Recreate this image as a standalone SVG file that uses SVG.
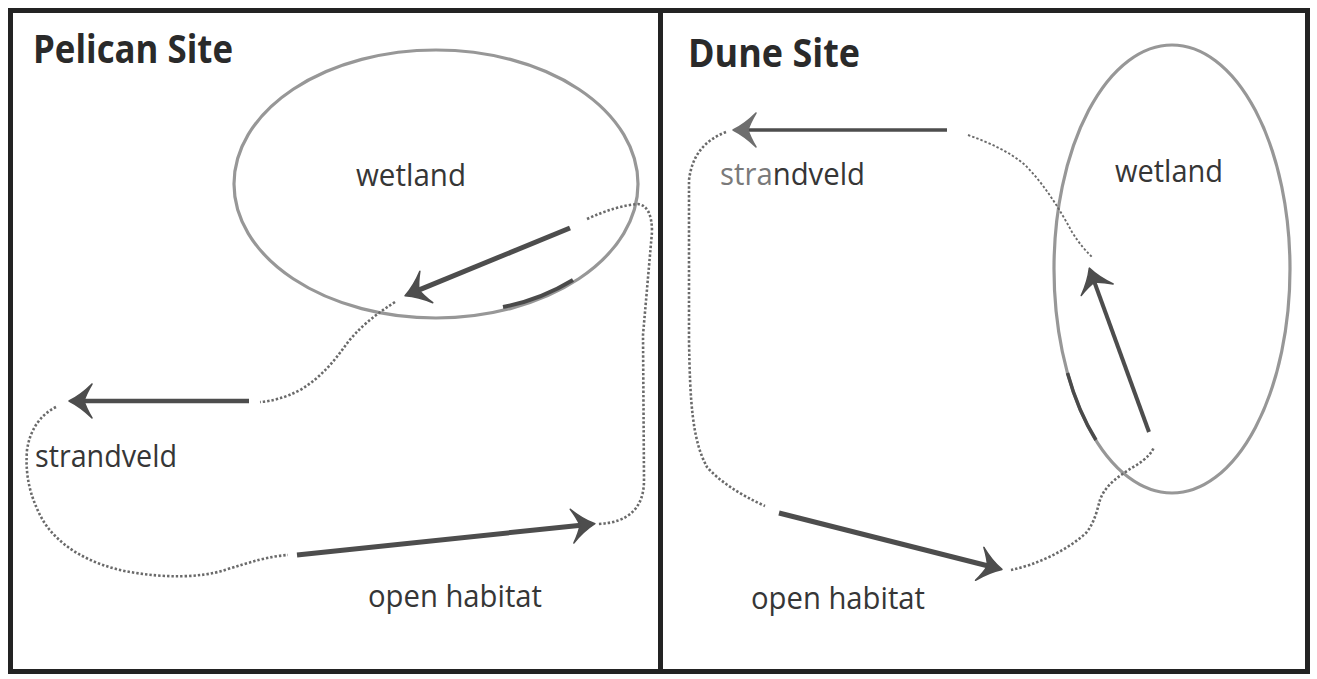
<svg xmlns="http://www.w3.org/2000/svg" width="1317" height="679" viewBox="0 0 1317 679">
<style>
.frame{fill:none;stroke:#232323;stroke-width:5}
.zone{fill:none;stroke:#979797;stroke-width:3.2}
.title{font-family:"Open Sans","Noto Sans",sans-serif;font-weight:700;font-size:35px;fill:#2a2a2a}
.lbl{font-family:"Open Sans","Noto Sans",sans-serif;font-weight:500;font-size:29px;fill:#363636}
.arrow{fill:none;stroke:#4d4d4d;stroke-width:5;marker-end:url(#ah)}
.dot{fill:none;stroke:#6a6a6a;stroke-width:2.6;stroke-dasharray:2.4 2}
.dark{fill:none;stroke:#4a4a4a;stroke-width:4}
</style>
<defs>
<marker id="ah" markerUnits="userSpaceOnUse" viewBox="-24 -20 40 40" refX="-12" refY="0" markerWidth="40" markerHeight="40" orient="auto">
<path d="M2,0 Q-10,-6 -21,-17 Q-15,-7 -13,0 Q-15,7 -21,17 Q-10,6 2,0 Z" fill="#4d4d4d" stroke="#4d4d4d" stroke-width="1.5" stroke-linejoin="round"/>
</marker>
<marker id="ahl" markerUnits="userSpaceOnUse" viewBox="-24 -20 40 40" refX="-12" refY="0" markerWidth="40" markerHeight="40" orient="auto">
<path d="M2,0 Q-10,-6 -21,-17 Q-15,-7 -13,0 Q-15,7 -21,17 Q-10,6 2,0 Z" fill="#6e6e6e" stroke="#6e6e6e" stroke-width="1.5" stroke-linejoin="round"/>
</marker>
</defs>
<rect x="0" y="0" width="1317" height="679" fill="#ffffff"/>
<g id="frame">
<rect class="frame" x="10.5" y="10.5" width="1297" height="661"/>
<line class="frame" x1="660.5" y1="10" x2="660.5" y2="672"/>
</g>
<g id="pelican-title"><text class="title" transform="translate(33,63) scale(1,1.1)" x="0" y="0" textLength="200" lengthAdjust="spacingAndGlyphs">Pelican Site</text></g>
<g id="dune-title"><text class="title" transform="translate(688,67) scale(1,1.1)" x="0" y="0" textLength="172" lengthAdjust="spacingAndGlyphs">Dune Site</text></g>
<g id="pelican-wetland">
<ellipse class="zone" cx="436" cy="184" rx="202" ry="134"/>
<path class="dark" d="M503,307 Q540,300 573,280"/>
<text class="lbl" transform="translate(356,186) scale(1,1.08)" x="0" y="0" textLength="110" lengthAdjust="spacingAndGlyphs">wetland</text>
</g>
<g id="pelican-strandveld"><text class="lbl" transform="translate(35,467) scale(1,1.08)" x="0" y="0" textLength="142" lengthAdjust="spacingAndGlyphs">strandveld</text></g>
<g id="pelican-open"><text class="lbl" transform="translate(368,607) scale(1,1.08)" x="0" y="0" textLength="174" lengthAdjust="spacingAndGlyphs">open habitat</text></g>
<g id="dune-wetland">
<ellipse class="zone" cx="1172" cy="269" rx="118" ry="224"/>
<path class="dark" style="stroke-width:3.5" d="M1067.5,373 A118,224 0 0 0 1096,440"/>
<text class="lbl" transform="translate(1115,182) scale(1,1.08)" x="0" y="0" textLength="108" lengthAdjust="spacingAndGlyphs">wetland</text>
</g>
<g id="dune-strandveld"><text class="lbl" transform="translate(720,185) scale(1,1.08)" x="0" y="0" textLength="145" lengthAdjust="spacingAndGlyphs"><tspan fill="#7a7a7a">stra</tspan>ndveld</text></g>
<g id="dune-open"><text class="lbl" transform="translate(751,609) scale(1,1.08)" x="0" y="0" textLength="174" lengthAdjust="spacingAndGlyphs">open habitat</text></g>
<g id="connectors">
<path class="dot" d="M587,219 Q615,206 638,204 Q652,206 652,232 L643,335 L644,480 Q644,522 598,524"/>
<path class="dot" d="M395,302 C370,318 358,330 348,342 C335,360 322,377 300,390 C285,398 272,401 260,402"/>
<path class="dot" d="M56,407 C40,415 30,430 27,450 C25,475 30,495 40,515 C55,545 90,565 130,572 C165,578 200,578 225,570 C250,562 270,556 288,555"/>
<path class="dot" d="M726,132 C705,140 692,155 689,180 L689,340 C690,400 692,440 707,467 C718,480 740,495 765,506"/>
<path class="dot" d="M1011,570 C1035,565 1065,552 1086,533 C1095,522 1097,510 1100,500 C1105,485 1120,475 1135,466 C1148,458 1152,452 1154,447"/>
<path class="dot" style="stroke-width:1.9" d="M968,135 C990,143 1010,152 1025,165 C1045,185 1060,210 1072,232 C1080,245 1087,252 1093,258"/>
<line class="arrow" x1="570" y1="228" x2="418" y2="290.4"/>
<line class="arrow" style="stroke-width:4.5" x1="249" y1="401" x2="83" y2="401"/>
<line class="arrow" x1="297" y1="555" x2="581" y2="525.2"/>
<line class="arrow" style="stroke-width:3.5;marker-end:url(#ahl)" x1="947" y1="130" x2="747" y2="130"/>
<line class="arrow" x1="779" y1="513" x2="988.4" y2="566"/>
<line class="arrow" style="stroke-width:4" x1="1149" y1="432" x2="1094.1" y2="281.3"/>
</g>
</svg>
